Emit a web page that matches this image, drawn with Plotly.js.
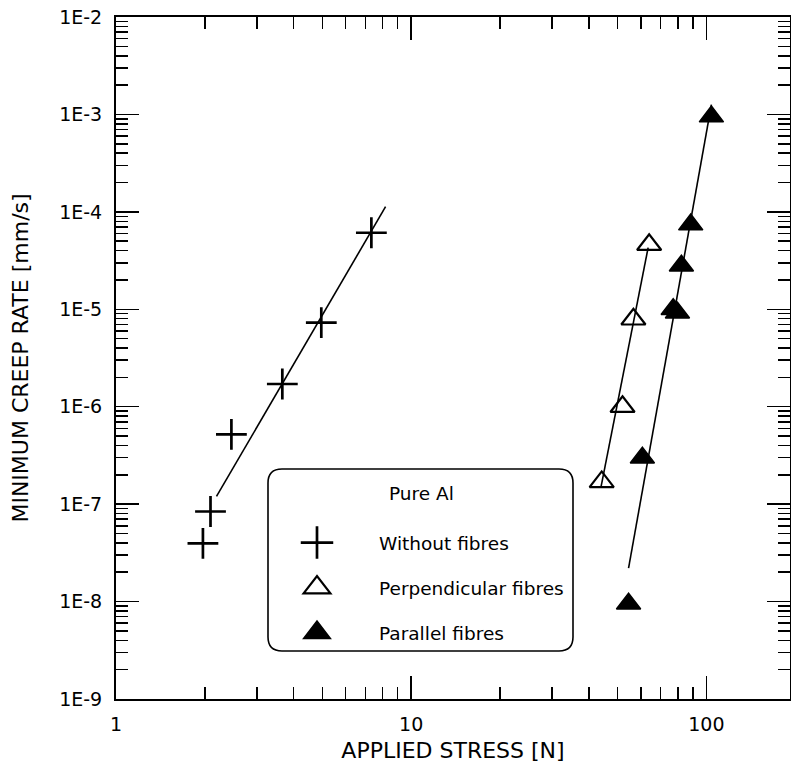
<!DOCTYPE html>
<html><head><meta charset="utf-8">
<script src="https://cdn.plot.ly/plotly-3.0.1.min.js"></script>
<style>html,body{margin:0;padding:0;background:#fff}#chart{width:791px;height:767px}</style>
</head><body><div id="chart"></div>
<script>
// ---- data ----
const withoutX = [1.97, 2.09, 2.46, 3.66, 4.96, 7.33];
const withoutY = [3.96e-8, 8.4e-8, 5.2e-7, 1.71e-6, 7.3e-6, 6.1e-5];
const perpX = [44.2, 52.0, 56.6, 64.0];
const perpY = [1.69e-7, 1.0e-6, 7.9e-6, 4.6e-5];
const parX = [54.5, 60.7, 77.2, 79.8, 82.3, 88.5, 104];
const parY = [9.5e-9, 3.0e-7, 1.0e-5, 9.2e-6, 2.8e-5, 7.4e-5, 9.5e-4];
// fitted lines (end points)
const fitWithoutX = [2.19, 8.19];
const fitWithoutY = [1.2e-7, 1.13e-4];
const fitPerpX = [43.9, 63.5];
const fitPerpY = [1.47e-7, 4.3e-5];
const fitParX = [54.5, 104];
const fitParY = [2.2e-8, 1.26e-3];
// tick labels
const xTickVals = [1, 10, 100];
const xTickText = ['1', '10', '100'];
const yTickVals = [1e-9, 1e-8, 1e-7, 1e-6, 1e-5, 1e-4, 1e-3, 1e-2];
const yTickText = ['1E-9', '1E-8', '1E-7', '1E-6', '1E-5', '1E-4', '1E-3', '1E-2'];
const seriesNames = ['Without fibres', 'Perpendicular fibres', 'Parallel fibres'];
const legendTitle = 'Pure Al';
const xTitle = 'APPLIED STRESS [N]';
const yTitle = 'MINIMUM CREEP RATE [mm/s]';

const FONT = 'DejaVu Sans, Verdana, sans-serif';
const lineStyle = {color: 'black', width: 1.6};

const traces = [
  {x: fitWithoutX, y: fitWithoutY, mode: 'lines', line: lineStyle, showlegend: false, hoverinfo: 'skip'},
  {x: fitPerpX, y: fitPerpY, mode: 'lines', line: lineStyle, showlegend: false, hoverinfo: 'skip'},
  {x: fitParX, y: fitParY, mode: 'lines', line: lineStyle, showlegend: false, hoverinfo: 'skip'},
  {x: withoutX, y: withoutY, mode: 'markers', name: seriesNames[0], legendgroup: 'a',
   marker: {symbol: 'cross-thin', size: 22, color: 'black', line: {color: 'black', width: 2.7}}},
  {x: perpX, y: perpY, mode: 'markers', name: seriesNames[1], legendgroup: 'b',
   marker: {symbol: 'triangle-up-open', size: 21, color: 'black', line: {color: 'black', width: 2.2}}},
  {x: parX, y: parY, mode: 'markers', name: seriesNames[2], legendgroup: 'c',
   marker: {symbol: 'triangle-up', size: 21, color: 'black', line: {color: 'black', width: 1.5}}}
];

// plot-area pixel geometry
const L = 116, R = 1, T = 17, B = 68, W = 791, H = 767;
const pw = W - L - R, ph = H - T - B;
function px2paperX(p) { return (p - L) / pw; }
function px2paperY(p) { return 1 - (p - T) / ph; }

// rounded legend box
const bx0 = px2paperX(268), bx1 = px2paperX(573), by1 = px2paperY(469), by0 = px2paperY(651);
const rx = 14 / pw, ry = 14 / ph;
const boxPath = `M${bx0+rx},${by1} L${bx1-rx},${by1} Q${bx1},${by1} ${bx1},${by1-ry} L${bx1},${by0+ry} Q${bx1},${by0} ${bx1-rx},${by0} L${bx0+rx},${by0} Q${bx0},${by0} ${bx0},${by0+ry} L${bx0},${by1-ry} Q${bx0},${by1} ${bx0+rx},${by1} Z`;

const axisCommon = {
  type: 'log', showgrid: false, zeroline: false,
  showline: true, linecolor: 'black', linewidth: 2, mirror: 'ticks',
  ticks: 'inside', ticklen: 23, tickwidth: 1.5, tickcolor: 'black',
  tickfont: {family: FONT, size: 19, color: 'black'},
  minor: {ticks: 'inside', ticklen: 12, tickwidth: 1.5, tickcolor: 'black', dtick: 'D1', showgrid: false}
};

const layout = {
  width: W, height: H,
  margin: {l: L, r: R, t: T, b: B, pad: 0},
  paper_bgcolor: 'white', plot_bgcolor: 'white',
  font: {family: FONT, color: 'black'},
  showlegend: true,
  xaxis: Object.assign({}, axisCommon, {
    range: [0, Math.log10(192)],
    tickvals: xTickVals, ticktext: xTickText, ticklabelstandoff: 7,
    title: {text: xTitle, standoff: 9, font: {family: FONT, size: 22, color: 'black'}}
  }),
  yaxis: Object.assign({}, axisCommon, {
    range: [-9, -2],
    tickvals: yTickVals, ticktext: yTickText, ticklabelstandoff: 8,
    title: {text: yTitle, standoff: 24, font: {family: FONT, size: 22, color: 'black'}}
  }),
  legend: {
    x: px2paperX(255), y: px2paperY(524), xanchor: 'left', yanchor: 'top',
    bgcolor: 'rgba(0,0,0,0)', borderwidth: 0,
    font: {family: FONT, size: 18.5, color: 'black'},
    itemwidth: 114, traceorder: 'grouped', tracegroupgap: 18
  },
  shapes: [{type: 'path', xref: 'paper', yref: 'paper', path: boxPath,
            line: {color: 'black', width: 1.6}, fillcolor: 'rgba(0,0,0,0)'}],
  annotations: [{text: legendTitle, xref: 'paper', yref: 'paper',
    x: px2paperX(421), y: px2paperY(493), xanchor: 'center', yanchor: 'middle',
    showarrow: false, font: {family: FONT, size: 18.5, color: 'black'}}]
};

Plotly.newPlot('chart', traces, layout, {displayModeBar: false, staticPlot: true}).then(function(gd) {
  const s = 1.45;
  gd.querySelectorAll('.legend path.scatterpts').forEach(function(p) {
    const t = p.getAttribute('transform') || '';
    p.setAttribute('transform', t + ' scale(' + s + ')');
    const sw = parseFloat(p.style.strokeWidth || '1');
    p.style.strokeWidth = (sw / s) + 'px';
  });
});
</script>
</body></html>
